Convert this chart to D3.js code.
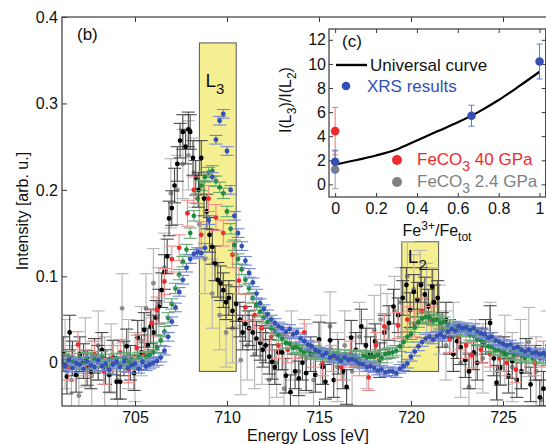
<!DOCTYPE html>
<html>
<head>
<meta charset="utf-8">
<script src="https://cdn.jsdelivr.net/npm/d3@7"></script>
<style>
body{margin:0;background:#fff}
svg{display:block;font-family:"Liberation Sans",Arial,sans-serif}
</style>
</head>
<body>
<div id="chart"></div>
<script>
// energy grid for the two dense series (eV)
var gridStart = 701, gridStep = 0.2;

var blueI = [
 0.001,-0.004, 0.003,-0.006, 0.000,
-0.002,-0.007, 0.002,-0.003,-0.005,
 0.003,-0.004,-0.001,-0.008,-0.002,
 0.001,-0.005, 0.002,-0.006,-0.003,
-0.001,-0.007, 0.001,-0.004,-0.002,
 0.000, 0.002, 0.006, 0.014, 0.030,
 0.048, 0.064, 0.082, 0.096, 0.110,
 0.120, 0.126, 0.128, 0.127, 0.133,
 0.165, 0.215, 0.258, 0.280, 0.288,
 0.245, 0.200, 0.170, 0.150, 0.135,
 0.118, 0.104, 0.093, 0.080, 0.069,
 0.062, 0.056, 0.050, 0.046, 0.042,
 0.040, 0.036, 0.039, 0.033, 0.035,
 0.028, 0.025, 0.021, 0.019, 0.015,
 0.013, 0.009, 0.011, 0.006, 0.008,
 0.005, 0.002, 0.006, 0.003, 0.004,
 0.002,-0.001,-0.002,-0.005,-0.004,
-0.006,-0.009,-0.008,-0.011,-0.010,
-0.010,-0.012,-0.007,-0.004,-0.001,
 0.007, 0.013, 0.019, 0.024, 0.028,
 0.030, 0.027, 0.031, 0.033, 0.030,
 0.036, 0.039, 0.037, 0.042, 0.040,
 0.041, 0.038, 0.040, 0.036, 0.034,
 0.033, 0.029, 0.030, 0.026, 0.024,
 0.022, 0.020, 0.021, 0.017, 0.018,
 0.015, 0.013, 0.015, 0.011, 0.012,
 0.010, 0.011, 0.008, 0.009, 0.007
];

var greenI = [
 0.004,-0.003, 0.007, 0.001,-0.002,
 0.005,-0.001, 0.006, 0.000, 0.004,
 0.001, 0.007,-0.003, 0.004, 0.000,
 0.005,-0.001, 0.006, 0.002, 0.004,
-0.001, 0.006, 0.002, 0.007, 0.009,
 0.012, 0.018, 0.026, 0.036, 0.052,
 0.068, 0.086, 0.102, 0.117, 0.131,
 0.150, 0.170, 0.190, 0.205, 0.215,
 0.220, 0.222, 0.210, 0.203, 0.196,
 0.175, 0.155, 0.136, 0.120, 0.108,
 0.096, 0.086, 0.075, 0.067, 0.059,
 0.052, 0.047, 0.040, 0.037, 0.032,
 0.028, 0.023, 0.022, 0.017, 0.018,
 0.015, 0.012, 0.014, 0.010, 0.012,
 0.011, 0.008, 0.011, 0.007, 0.010,
 0.009, 0.006, 0.009, 0.005, 0.008,
 0.007, 0.004, 0.008, 0.006, 0.007,
 0.007, 0.009, 0.006, 0.010, 0.011,
 0.012, 0.014, 0.019, 0.024, 0.030,
 0.033, 0.041, 0.047, 0.051, 0.053,
 0.053, 0.049, 0.050, 0.046, 0.047,
 0.044, 0.040, 0.042, 0.037, 0.038,
 0.036, 0.032, 0.031, 0.027, 0.026,
 0.024, 0.019, 0.018, 0.015, 0.015,
 0.013, 0.010, 0.012, 0.009, 0.010,
 0.008, 0.006, 0.008, 0.005, 0.007,
 0.005, 0.006, 0.003, 0.005, 0.004
];

var blackE = [701.1,701.3,701.45,701.6,701.8,702.0,702.2,702.4,702.6,702.8,703.0,703.2,703.4,703.6,703.8,704.0,704.2,704.4,704.55,704.75,704.95,705.15,705.35,705.5,705.7,705.85,706.0,706.15,706.3,706.45,706.6,706.75,706.85,707.0,707.15,707.3,707.45,707.6,707.75,707.9,708.0,708.15,708.3,708.45,708.6,708.75,708.9,709.05,709.2,709.35,709.5,709.65,709.8,709.95,710.1,710.3,710.5,710.7,710.85,711.0,711.2,711.4,711.6,711.8,711.95,712.1,712.3,712.45,712.6,712.8,713.0,713.2,713.45,713.7,713.9,714.1,714.3,714.55,714.8,715.0,715.2,715.35,715.6,715.8,716.05,716.3,716.5,716.75,717.0,717.3,717.55,717.8,718.05,718.3,718.55,718.8,719.05,719.3,719.55,719.75,719.95,720.15,720.35,720.55,720.75,720.95,721.15,721.25,721.45,721.7,721.9,722.1,722.3,722.5,722.7,722.95,723.15,723.4,723.6,723.85,724.05,724.3,724.5,724.65,724.85,725.05,725.3,725.5,725.75,726.0,726.25,726.5,726.75,727.0,727.2,727.5];
var blackI = [0.010,-0.016,0.035,0.005,-0.014,0.010,0.002,-0.006,-0.010,0.008,0.000,0.015,-0.005,-0.014,0.006,-0.022,-0.022,0.005,0.019,0.000,-0.012,0.029,0.012,0.038,0.020,0.042,0.035,0.052,0.065,0.084,0.105,0.123,0.167,0.179,0.205,0.230,0.257,0.267,0.250,0.270,0.267,0.237,0.214,0.200,0.237,0.190,0.175,0.148,0.134,0.115,0.096,0.092,0.084,0.070,0.075,0.060,0.068,0.050,0.035,0.045,0.040,0.035,0.028,0.023,0.015,0.020,0.007,0.001,-0.005,0.012,0.012,-0.015,-0.034,-0.010,-0.018,0.000,-0.012,0.010,-0.014,0.027,-0.005,-0.022,0.026,-0.020,0.007,-0.010,-0.028,0.029,0.015,0.042,0.020,0.010,0.025,0.003,0.035,0.046,0.065,0.055,0.075,0.090,0.061,0.082,0.073,0.090,0.079,0.065,0.088,0.070,0.075,0.038,0.050,0.030,0.010,0.025,0.018,0.003,-0.010,0.012,0.000,0.020,0.030,0.046,0.005,-0.023,-0.006,0.010,-0.015,0.002,-0.020,-0.010,0.008,-0.025,0.000,-0.040,-0.030,-0.010];

var grayE = [701.2,701.55,701.95,702.3,702.65,703.0,703.35,703.7,704.05,704.3,704.65,705.0,705.35,705.6,706.0,706.3,706.6,706.95,707.3,707.6,707.9,708.2,708.5,708.8,709.2,709.6,709.95,710.3,710.75,711.1,711.5,711.9,712.3,712.7,713.1,713.5,713.9,714.3,714.7,715.1,715.6,716.0,716.4,716.8,717.2,717.6,718.0,718.35,718.7,719.1,719.45,719.8,720.15,720.5,720.85,721.2,721.55,721.9,722.3,722.7,723.15,723.5,723.9,724.3,724.7,725.1,725.5,725.95,726.4,726.8,727.1,727.4];
var grayI = [0.010,-0.020,-0.038,0.012,-0.015,0.020,-0.010,0.005,-0.020,0.063,0.010,-0.005,0.025,0.063,0.092,0.070,0.110,0.196,0.200,0.230,0.240,0.220,0.160,0.120,0.080,0.055,0.035,0.040,0.003,0.020,0.010,0.015,-0.020,0.000,-0.030,0.020,-0.010,0.005,-0.020,0.015,0.042,-0.005,0.020,-0.010,0.030,0.010,0.038,0.050,0.040,0.060,0.070,0.100,0.085,0.090,0.075,0.070,0.050,0.020,0.030,0.000,-0.028,0.010,0.005,0.030,-0.010,0.015,-0.005,0.010,0.024,-0.010,-0.043,0.020];

var redE = [701.4,701.9,702.35,702.8,703.3,703.75,704.2,704.65,705.1,705.5,705.9,706.2,706.6,707.0,707.4,707.85,708.2,708.6,709.0,709.4,709.8,710.3,710.65,711.0,711.5,711.9,712.4,712.8,713.3,713.75,714.2,714.7,715.2,715.7,716.2,716.7,717.2,717.7,718.1,718.55,719.3,719.8,720.2,720.6,721.1,721.6,722.1,722.6,723.0,723.3,723.8,724.3,724.8,725.2,725.7,726.2,726.7,727.2];
var redI = [-0.005,0.021,0.000,0.010,-0.010,0.005,0.012,-0.008,0.017,0.010,0.046,0.061,0.094,0.120,0.133,0.173,0.200,0.148,0.190,0.168,0.150,0.125,0.095,0.064,0.055,0.040,0.030,0.020,0.015,0.020,0.035,0.010,0.000,0.005,-0.005,0.010,0.000,-0.017,0.020,0.042,0.043,0.050,0.045,0.060,0.050,0.040,0.027,0.030,0.020,0.009,0.015,0.010,0.005,0.000,-0.008,0.005,0.000,0.010];

// vertical error (half length) per series
var seriesErr = {gray: 0.04, black: 0.02, red: 0.015, blue: 0.005, green: 0.006};

// integration windows [E0, E1, Imin, Imax, label, subscript, label baseline px]
var bands = [[708.5, 710.5, -0.01, 0.37, "L", "3", 87], [719.5, 721.5, -0.01, 0.14, "L", "2", 263]];

// inset data
var curveX = [0, 0.1, 0.2, 0.3, 0.4, 0.5, 0.6, 0.7, 0.8, 0.9, 1.0];
var curveY = [1.65, 2.0, 2.4, 2.9, 3.65, 4.4, 5.15, 6.0, 7.0, 8.15, 9.35];
var xrsX = [0, 0.667, 1];
var xrsY = [1.88, 5.7, 10.2];
var xrsErr = [0.9, 0.87, 1.45];
var fe40 = [0, 4.42, 1.97];
var fe24 = [0, 1.24, 1.6];

var mainXTicks = [705, 710, 715, 720, 725];
var mainYTicks = [0, 0.1, 0.2, 0.3, 0.4];
var insetXTicks = [0, 0.2, 0.4, 0.6, 0.8, 1];
var insetYTicks = [0, 2, 4, 6, 8, 10, 12];

function renderChart(){

  var W = 546, H = 444;
  var axisColor = "#3a3a3a";

  var svg = d3.select("#chart").append("svg")
      .attr("width", W).attr("height", H);

  var x = d3.scaleLinear().domain([701, 728]).range([61.4, 558.2]);
  var y = d3.scaleLinear().domain([-0.05, 0.4]).range([406, 17]);

  svg.append("clipPath").attr("id", "mainClip")
     .append("rect").attr("x", 62).attr("y", 17).attr("width", W - 62).attr("height", 389);

  var plot = svg.append("g").attr("clip-path", "url(#mainClip)");

  // yellow windows
  plot.selectAll("rect.band").data(bands).enter().append("rect")
      .attr("class", "band")
      .attr("x", function(d){ return x(d[0]); })
      .attr("width", function(d){ return x(d[1]) - x(d[0]); })
      .attr("y", function(d){ return y(d[3]); })
      .attr("height", function(d){ return y(d[2]) - y(d[3]); })
      .attr("fill", "#f6ef92")
      .attr("stroke", "#555")
      .attr("stroke-width", 1);

  var gridE = function(arr){ return arr.map(function(v, i){ return [gridStart + i * gridStep, v]; }); };
  var pairs = function(e, v){ return e.map(function(d, i){ return [d, v[i]]; }); };

  var series = [
    {key: "gray",  pts: pairs(grayE, grayI),   dot: "#8c8c8c", bar: "#b5b5b5"},
    {key: "black", pts: pairs(blackE, blackI), dot: "#000000", bar: "#4a4a4a"},
    {key: "red",   pts: pairs(redE, redI),     dot: "#ee2a2a", bar: "#f08a8a"},
    {key: "green", pts: gridE(greenI),         dot: "#21893f", bar: "#62ab73"},
    {key: "blue",  pts: gridE(blueI),          dot: "#3550b4", bar: "#7488d2"}
  ];

  var cap = 6.5;

  series.forEach(function(s){
    var e = seriesErr[s.key];
    var g = plot.append("g").attr("class", "series-" + s.key);
    var pt = g.selectAll("g.pt").data(s.pts).enter().append("g").attr("class", "pt");

    pt.append("line")
      .attr("x1", function(d){ return x(d[0]); })
      .attr("x2", function(d){ return x(d[0]); })
      .attr("y1", function(d){ return y(d[1] - e); })
      .attr("y2", function(d){ return y(d[1] + e); })
      .attr("stroke", s.bar).attr("stroke-width", 1.1);

    [-1, 1].forEach(function(sign){
      pt.append("line")
        .attr("x1", function(d){ return x(d[0]) - cap; })
        .attr("x2", function(d){ return x(d[0]) + cap; })
        .attr("y1", function(d){ return y(d[1] + sign * e); })
        .attr("y2", function(d){ return y(d[1] + sign * e); })
        .attr("stroke", s.bar).attr("stroke-width", 1.1);
    });

    g.selectAll("circle").data(s.pts).enter().append("circle")
      .attr("cx", function(d){ return x(d[0]); })
      .attr("cy", function(d){ return y(d[1]); })
      .attr("r", 2.4)
      .attr("fill", s.dot);
  });

  // band labels
  bands.forEach(function(b){
    var t = svg.append("text")
      .attr("x", x(b[0]) + 6)
      .attr("y", b[6])
      .attr("font-size", 19).attr("fill", "#111");
    t.append("tspan").text(b[4]);
    t.append("tspan").attr("dy", 7).attr("font-size", 15).text(b[5]);
  });

  // main frame and axes
  svg.append("rect")
     .attr("x", 62).attr("y", 17).attr("width", 600).attr("height", 389)
     .attr("fill", "none").attr("stroke", axisColor).attr("stroke-width", 1.2);

  var xAxis = svg.append("g").attr("transform", "translate(0,406)")
     .call(d3.axisBottom(x).tickValues(mainXTicks).tickSize(-5).tickPadding(6).tickSizeOuter(0));
  svg.append("g").attr("transform", "translate(0,17)")
     .call(d3.axisTop(x).tickValues(mainXTicks).tickSize(-5).tickFormat("").tickSizeOuter(0));
  var yAxis = svg.append("g").attr("transform", "translate(62,0)")
     .call(d3.axisLeft(y).tickValues(mainYTicks).tickSize(-5).tickPadding(4).tickSizeOuter(0)
       .tickFormat(function(d){ return d === 0 ? "0" : d3.format(".1f")(d); }));

  [xAxis, yAxis].forEach(function(a){
    a.selectAll("text").attr("font-size", 16).attr("fill", "#111")
     .attr("font-family", "'Liberation Sans',Arial,sans-serif");
  });
  svg.selectAll(".tick line").attr("stroke", axisColor);
  svg.selectAll("path.domain").remove();

  svg.append("text").attr("x", 308).attr("y", 441).attr("text-anchor", "middle")
     .attr("font-size", 16).attr("fill", "#111").text("Energy Loss [eV]");
  svg.append("text").attr("transform", "translate(28,211) rotate(-90)").attr("text-anchor", "middle")
     .attr("font-size", 16).attr("fill", "#111").text("Intensity [arb. u.]");
  svg.append("text").attr("x", 77).attr("y", 40)
     .attr("font-size", 17).attr("fill", "#111").text("(b)");

  // ---------- inset ----------
  var ix = d3.scaleLinear().domain([-0.03, 1.03]).range([329, 545.7]);
  var iy = d3.scaleLinear().domain([-1.05, 12.9]).range([197, 29]);

  var inset = svg.append("g");
  inset.append("rect").attr("x", 329).attr("y", 29).attr("width", 216.7).attr("height", 168)
     .attr("fill", "#fff").attr("stroke", axisColor).attr("stroke-width", 1.2);

  var ixb = inset.append("g").attr("transform", "translate(0,197)")
     .call(d3.axisBottom(ix).tickValues(insetXTicks).tickSize(-4).tickPadding(6).tickSizeOuter(0)
       .tickFormat(function(d){ return d === 0 ? "0" : d === 1 ? "1" : d3.format(".1f")(d); }));
  inset.append("g").attr("transform", "translate(0,29)")
     .call(d3.axisTop(ix).tickValues(insetXTicks).tickSize(-4).tickFormat("").tickSizeOuter(0));
  var iyl = inset.append("g").attr("transform", "translate(329,0)")
     .call(d3.axisLeft(iy).tickValues(insetYTicks).tickSize(-4).tickPadding(3).tickSizeOuter(0));
  inset.append("g").attr("transform", "translate(545.7,0)")
     .call(d3.axisRight(iy).tickValues(insetYTicks).tickSize(-4).tickFormat("").tickSizeOuter(0));
  inset.selectAll("path.domain").remove();
  inset.selectAll(".tick line").attr("stroke", axisColor);
  [ixb, iyl].forEach(function(a){
    a.selectAll("text").attr("font-size", 16).attr("fill", "#111")
     .attr("font-family", "'Liberation Sans',Arial,sans-serif");
  });

  var line = d3.line().x(function(d){ return ix(d[0]); }).y(function(d){ return iy(d[1]); })
     .curve(d3.curveMonotoneX);
  inset.append("path").datum(curveX.map(function(v, i){ return [v, curveY[i]]; }))
     .attr("d", line).attr("fill", "none").attr("stroke", "#000").attr("stroke-width", 2.2);

  var insetPts = [
    [fe24[0], fe24[1], fe24[2], "#808080", "#9a9a9a"],
    [fe40[0], fe40[1], fe40[2], "#ee2a2a", "#f07070"]
  ].concat(xrsX.map(function(v, i){ return [v, xrsY[i], xrsErr[i], "#3550b4", "#5f78cc"]; }));

  var ip = inset.selectAll("g.ipt").data(insetPts).enter().append("g").attr("class", "ipt");
  ip.append("line")
    .attr("x1", function(d){ return ix(d[0]); }).attr("x2", function(d){ return ix(d[0]); })
    .attr("y1", function(d){ return iy(d[1] - d[2]); }).attr("y2", function(d){ return iy(d[1] + d[2]); })
    .attr("stroke", function(d){ return d[4]; }).attr("stroke-width", 1);
  [-1, 1].forEach(function(sign){
    ip.append("line")
      .attr("x1", function(d){ return ix(d[0]) - 3; }).attr("x2", function(d){ return ix(d[0]) + 3; })
      .attr("y1", function(d){ return iy(d[1] + sign * d[2]); }).attr("y2", function(d){ return iy(d[1] + sign * d[2]); })
      .attr("stroke", function(d){ return d[4]; }).attr("stroke-width", 1);
  });
  ip.append("circle")
    .attr("cx", function(d){ return ix(d[0]); }).attr("cy", function(d){ return iy(d[1]); })
    .attr("r", 4.3).attr("fill", function(d){ return d[3]; });

  // legend
  inset.append("line").attr("x1", 336).attr("x2", 367).attr("y1", 65).attr("y2", 65)
     .attr("stroke", "#000").attr("stroke-width", 2.4);
  inset.append("text").attr("x", 370).attr("y", 71).attr("font-size", 17).attr("fill", "#111")
     .text("Universal curve");
  inset.append("circle").attr("cx", 346).attr("cy", 86).attr("r", 4.3).attr("fill", "#3550b4");
  inset.append("text").attr("x", 367).attr("y", 92).attr("font-size", 17).attr("fill", "#3550b4")
     .text("XRS results");

  var feLegend = [[160, "#ee2a2a", " 40 GPa"], [182, "#808080", " 2.4 GPa"]];
  feLegend.forEach(function(f){
    inset.append("circle").attr("cx", 397).attr("cy", f[0]).attr("r", 5).attr("fill", f[1]);
    var t = inset.append("text").attr("x", 417).attr("y", f[0] + 5).attr("font-size", 17).attr("fill", f[1]);
    t.append("tspan").text("FeCO");
    t.append("tspan").attr("dy", 6).attr("font-size", 14).text("3");
    t.append("tspan").attr("dy", -6).text(f[2]);
  });

  inset.append("text").attr("x", 342).attr("y", 47).attr("font-size", 17).attr("fill", "#111").text("(c)");

  var fl = svg.append("text").attr("x", 437).attr("y", 236).attr("text-anchor", "middle")
     .attr("font-size", 16).attr("fill", "#111");
  fl.append("tspan").text("Fe");
  fl.append("tspan").attr("dy", -6).attr("font-size", 12).text("3+");
  fl.append("tspan").attr("dy", 6).text("/Fe");
  fl.append("tspan").attr("dy", 5).attr("font-size", 12).text("tot");

  var il = svg.append("text").attr("transform", "translate(291,100) rotate(-90)")
     .attr("text-anchor", "middle").attr("font-size", 16).attr("fill", "#111");
  il.append("tspan").text("I(L");
  il.append("tspan").attr("dy", 5).attr("font-size", 12).text("3");
  il.append("tspan").attr("dy", -5).text(")/I(L");
  il.append("tspan").attr("dy", 5).attr("font-size", 12).text("2");
  il.append("tspan").attr("dy", -5).text(")");
}

renderChart();
</script>
</body>
</html>
